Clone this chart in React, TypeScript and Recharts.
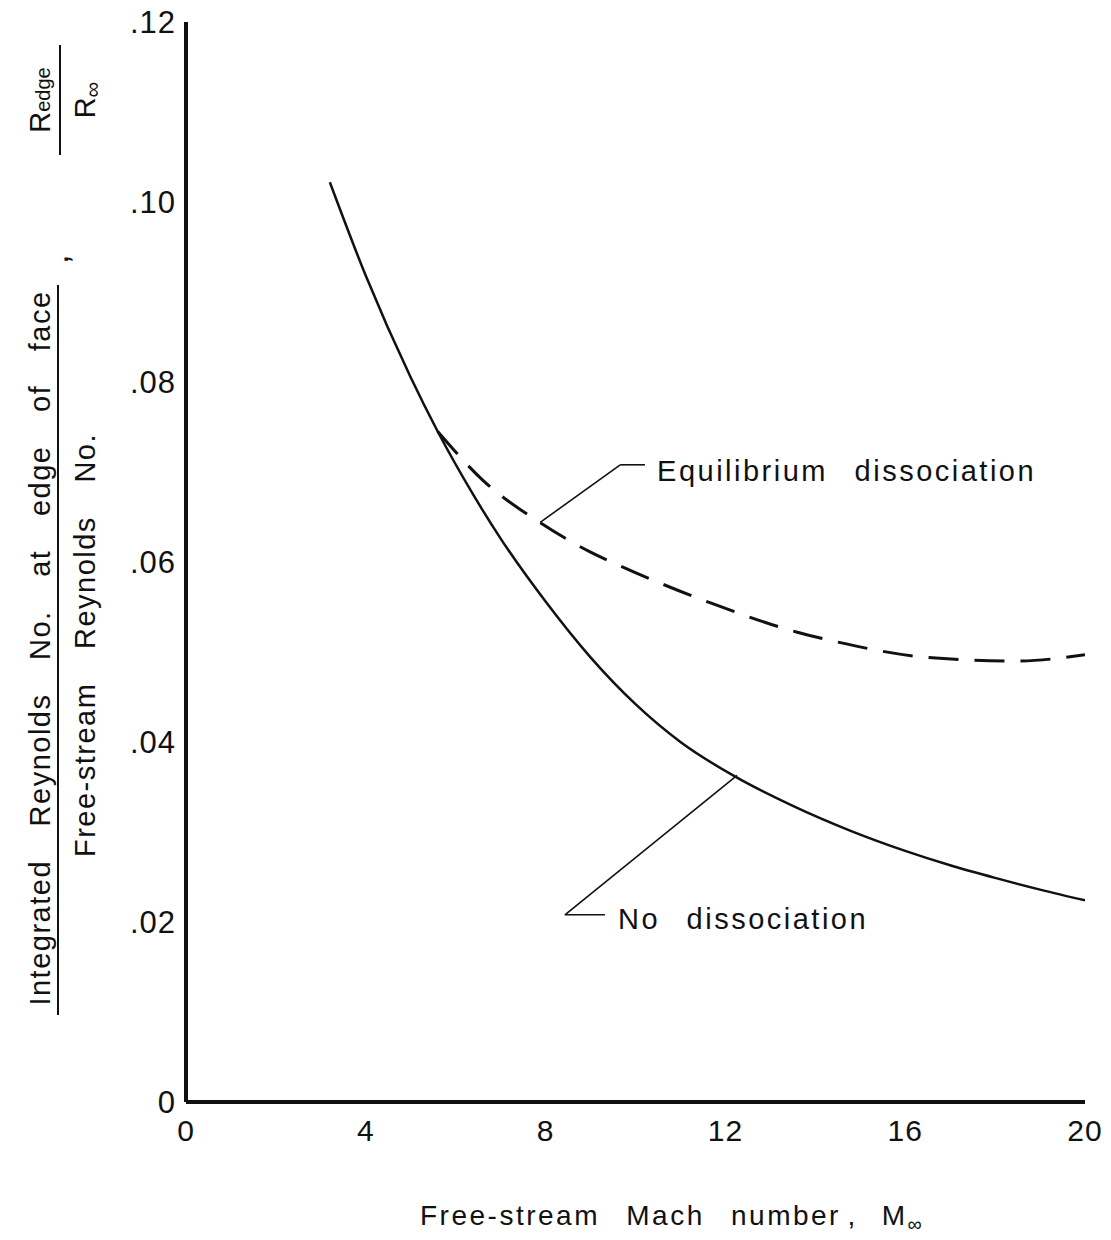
import { LineChart, Line, XAxis, YAxis, ReferenceLine, ReferenceDot, Label } from 'recharts'

// Free-stream Mach number vs. ratio R_edge / R_inf
const machNoDiss = [3.2, 4, 5, 5.6, 6.4, 7, 8, 9, 10, 11, 12.2, 13.5, 14.8, 16, 17, 18, 19, 20]
const ratioNoDiss = [
  0.1022, 0.0918, 0.0805, 0.0745, 0.0674, 0.0626, 0.0556, 0.0494, 0.0442, 0.04, 0.0362, 0.0329, 0.0301,
  0.0279, 0.0263, 0.0249, 0.0236, 0.0224,
]
const machEquil = [5.6, 6.6, 7.9, 9, 9.6, 11.7, 13.6, 14.5, 16.5, 18.5, 20]
const ratioEquil = [0.0745, 0.0691, 0.0643, 0.0611, 0.0597, 0.0554, 0.0522, 0.0511, 0.0494, 0.049, 0.0497]

const xTicks = [0, 4, 8, 12, 16, 20]
const yTicks = [0, 0.02, 0.04, 0.06, 0.08, 0.1, 0.12]

const noDissData = machNoDiss.map((m, i) => ({ m, r: ratioNoDiss[i] }))
const equilData = machEquil.map((m, i) => ({ m, r: ratioEquil[i] }))

const FONT = '"Liberation Sans", Arial, sans-serif'
const INK = '#111'

const fmtY = (v: number) => (v === 0 ? '0' : v.toFixed(2).replace(/^0/, ''))

function textLabel(text: string, size = 29) {
  return (props: any) => {
    const { x, y } = props.viewBox
    return (
      <text
        x={x}
        y={y}
        dy="0.36em"
        fontSize={size}
        fill={INK}
        fontFamily={FONT}
        style={{ wordSpacing: 16, letterSpacing: 2.5 }}
      >
        {text}
      </text>
    )
  }
}

function YTitle() {
  return (
    <g fill={INK} fontFamily={FONT}>
      <text
        transform="translate(50,648) rotate(-90)"
        textAnchor="middle"
        fontSize={29}
        style={{ wordSpacing: 24, letterSpacing: 1.5 }}
      >
        Integrated Reynolds No. at edge of face
      </text>
      <line x1={58} y1={1015} x2={58} y2={285} stroke={INK} strokeWidth={2} />
      <text
        transform="translate(95,645) rotate(-90)"
        textAnchor="middle"
        fontSize={29}
        style={{ wordSpacing: 24, letterSpacing: 1.5 }}
      >
        Free-stream Reynolds No.
      </text>
      <text transform="translate(68,264) rotate(-90)" fontSize={34}>
        ,
      </text>
      <text transform="translate(50,100) rotate(-90)" textAnchor="middle" fontSize={29}>
        R<tspan fontSize={20}>edge</tspan>
      </text>
      <line x1={60} y1={155} x2={60} y2={45} stroke={INK} strokeWidth={2} />
      <text transform="translate(95,100) rotate(-90)" textAnchor="middle" fontSize={29}>
        R<tspan fontSize={22} dy={5}>∞</tspan>
      </text>
    </g>
  )
}

function XTitle() {
  return (
    <text
      x={420}
      y={1225}
      fontSize={28}
      fill={INK}
      fontFamily={FONT}
      style={{ wordSpacing: 16, letterSpacing: 2.5 }}
    >
      Free-stream Mach number
      <tspan dx={8}>,</tspan>
      <tspan dx={24}>M</tspan>
      <tspan fontSize={20} dy={6}>∞</tspan>
    </text>
  )
}

export default function App() {
  return (
    <div style={{ position: 'absolute', left: 0, top: 0, background: '#fff' }}>
      <LineChart width={1111} height={1240} margin={{ top: 22, right: 26, bottom: 0, left: 0 }}>
        <XAxis
          type="number"
          dataKey="m"
          domain={[0, 20]}
          ticks={xTicks}
          allowDataOverflow
          height={138}
          axisLine={{ stroke: INK, strokeWidth: 4 }}
          tickLine={false}
          tickSize={0}
          tickMargin={18}
          tick={{ fontSize: 30, fill: INK, fontFamily: FONT, letterSpacing: 1 }}
        >
          <Label content={() => <XTitle />} />
        </XAxis>
        <YAxis
          type="number"
          dataKey="r"
          domain={[0, 0.12]}
          ticks={yTicks}
          allowDataOverflow
          tickFormatter={fmtY}
          axisLine={{ stroke: INK, strokeWidth: 4 }}
          tickLine={false}
          tickSize={0}
          tickMargin={10}
          width={186}
          tick={{ fontSize: 31, fill: INK, fontFamily: FONT, letterSpacing: 1 }}
        >
          <Label content={() => <YTitle />} />
        </YAxis>

        <Line
          data={noDissData}
          dataKey="r"
          type="monotone"
          stroke={INK}
          strokeWidth={2.5}
          dot={false}
          isAnimationActive={false}
        />
        <Line
          data={equilData}
          dataKey="r"
          type="monotone"
          stroke={INK}
          strokeWidth={3}
          strokeDasharray="30 16"
          dot={false}
          isAnimationActive={false}
        />

        {/* leader for equilibrium curve */}
        <ReferenceLine segment={[{ x: 7.88, y: 0.0644 }, { x: 9.66, y: 0.0708 }]} stroke={INK} strokeWidth={1.6} />
        <ReferenceLine segment={[{ x: 9.66, y: 0.0708 }, { x: 10.21, y: 0.0708 }]} stroke={INK} strokeWidth={1.6} />
        <ReferenceDot x={10.48} y={0.0702} r={0} fill="none" stroke="none" label={{ content: textLabel('Equilibrium dissociation') }} />

        {/* leader for no-dissociation curve */}
        <ReferenceLine segment={[{ x: 12.26, y: 0.0363 }, { x: 8.43, y: 0.0208 }]} stroke={INK} strokeWidth={1.6} />
        <ReferenceLine segment={[{ x: 8.43, y: 0.0208 }, { x: 9.32, y: 0.0208 }]} stroke={INK} strokeWidth={1.6} />
        <ReferenceDot x={9.61} y={0.0204} r={0} fill="none" stroke="none" label={{ content: textLabel('No dissociation') }} />
      </LineChart>
    </div>
  )
}
